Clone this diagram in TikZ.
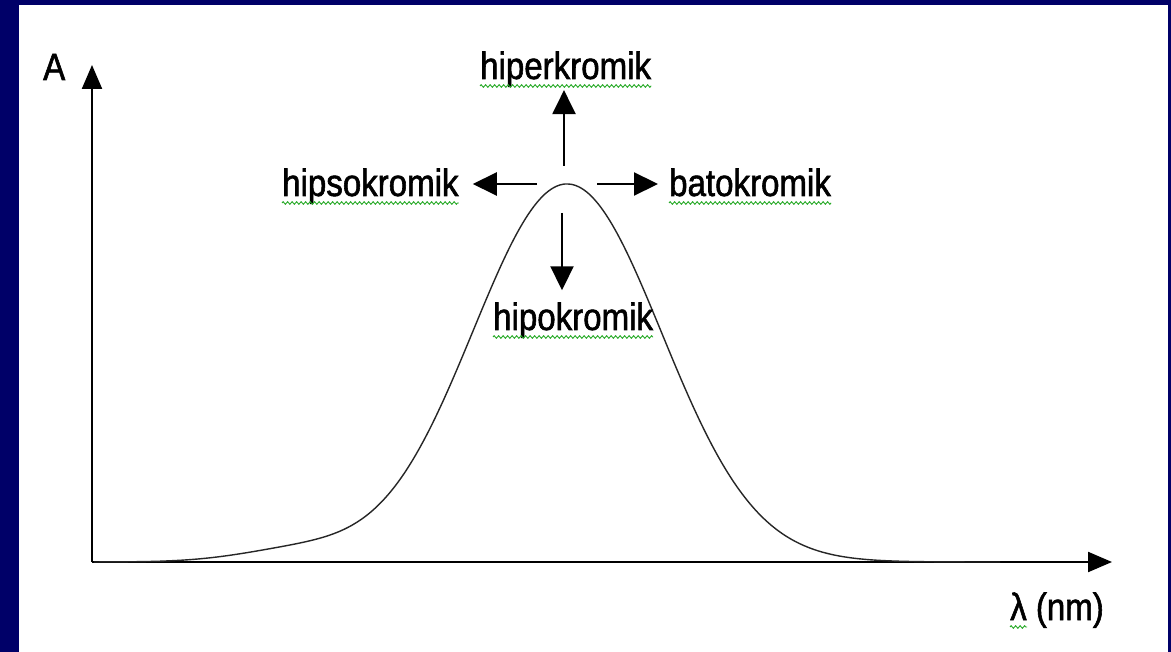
\documentclass[tikz,border=0pt]{standalone}
\usepackage{fontspec}
\setmainfont{Liberation Sans}[FakeStretch=0.87,FakeBold=1.5]
\usetikzlibrary{arrows.meta,decorations.pathmorphing}
\definecolor{slideblue}  {RGB}{  0,  0,104}
\definecolor{spellgreen} {RGB}{ 40,170, 40}

\begin{document}
\begin{tikzpicture}[
    x=1pt, y=-1pt,
    term/.style={inner sep=0pt, anchor=base west, font=\fontsize{38}{40}\selectfont},
    axis/.style={-{Triangle[length=24pt,width=20pt]}, line width=2.2pt},
    shiftarrow/.style={-{Triangle[length=24pt,width=23pt]}, line width=2.2pt},
    curve/.style={line width=1.4pt, black!85},
    squiggle/.style={draw=spellgreen, line width=0.9pt, decorate, decoration={zigzag, amplitude=1.3pt, segment length=4.5pt}}
]
    % slide frame
    \fill[slideblue] (0,0) rectangle (1171,652);
    \fill[white] (19,5) rectangle (1168,652);

    % axes
    \coordinate (origin) at (92,562);
    \coordinate (ytip) at (92,65);
    \coordinate (xtip) at (1112,562);
    \draw[axis] (origin) -- (ytip);
    \draw[axis] (origin) -- (xtip);
    \node[term] (absorb) at (43,80) {A};
    \node[term] (lambda) at (1010,620) {λ (nm)};

    % absorption band
    \draw[curve] plot[domain=94:1000, samples=240, smooth]
        (\x, {562 - 378*exp(-((\x-567)/100)^2/1.79) - 12*exp(-((\x-300)/100)^2/0.72)});

    % shift labels
    \node[term] (hiper) at (480,79) {hiperkromik};
    \node[term] (hipso) at (282,196) {hipsokromik};
    \node[term] (bato) at (669,196) {batokromik};
    \node[term] (hipo) at (493,330) {hipokromik};

    \coordinate (sup) at (564,166);
    \coordinate (sleft) at (537,184);
    \coordinate (sright) at (597,184);
    \coordinate (sdown) at (562,213);

    \draw[shiftarrow, shorten >=3pt] (sup) -- (sup |- hiper.south);
    \draw[shiftarrow, shorten >=14pt] (sleft) -- (sleft -| hipso.east);
    \draw[shiftarrow, shorten >=11pt] (sright) -- (sright -| bato.west);
    \draw[shiftarrow, shorten >=12pt] (sdown) -- (sdown |- hipo.north);

    % spell-check underlines
    \foreach \t in {hiper,hipso,bato,hipo}
        \draw[squiggle] ([yshift=-7pt]\t.base west) -- ([yshift=-7pt]\t.base east);
    \draw[squiggle] ([yshift=-7pt]lambda.base west) -- ++(17,0);
\end{tikzpicture}
\end{document}
